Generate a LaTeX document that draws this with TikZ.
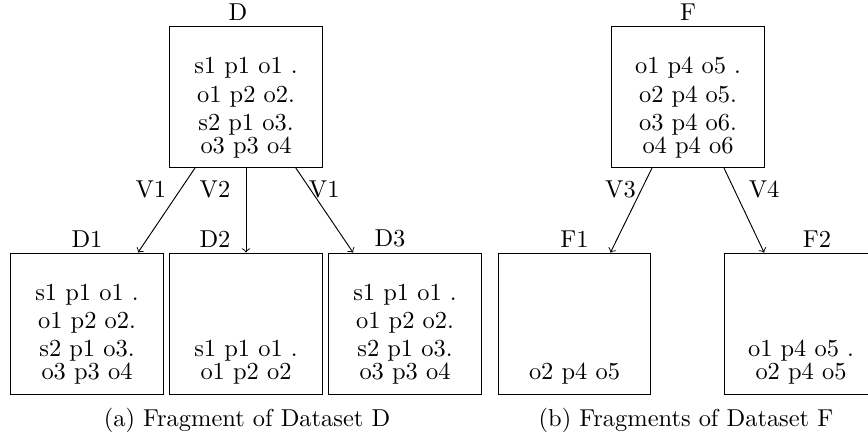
\documentclass[tikz,border=0pt]{standalone}
\usetikzlibrary{positioning}
\tikzset{
	frag/.style={draw, minimum width=65pt, minimum height=60pt, inner sep=0pt},
	rows/.style={align=center, inner sep=0pt},
	tag/.style={inner sep=2pt},
	subcap/.style={inner sep=0pt, anchor=base}
}
\begin{document}
\begin{tikzpicture}[x=0.4255pt, y=-0.4255pt, font=\fontsize{10.4pt}{12pt}\selectfont]
			\useasboundingbox (0,0) rectangle (868,438);
			\node[frag, label={[tag, xshift=-3.4pt]above:D}] (d) at (246,97) {};
			\node[frag, label={[tag]above:F}] (f) at (688,97) {};
			\node[frag, label={[tag]above:D1}] (d1) at (87,323.5) {};
			\node[frag, label={[tag, xshift=-13.2pt]above:D2}] (d2) at (246,323.5) {};
			\node[frag, label={[tag, xshift=-6.4pt]above:D3}] (d3) at (405,323.5) {};
			\node[frag, label={[tag]above:F1}] (f1) at (574.5,323.5) {};
			\node[frag, label={[tag, xshift=6.8pt]above:F2}] (f2) at (801,323.5) {};
			\node[rows, above=4pt of d.south] (dt) {s1 p1 o1 .\\ o1 p2 o2.\\ s2 p1 o3.\\[-2.2pt] o3 p3 o4};
			\node[rows, above=4pt of f.south] (ft) {o1 p4 o5 .\\ o2 p4 o5.\\ o3 p4 o6.\\[-2.2pt] o4 p4 o6};
			\node[rows, above=4pt of d1.south] (d1t) {s1 p1 o1 .\\ o1 p2 o2.\\ s2 p1 o3.\\[-2.2pt] o3 p3 o4};
			\node[rows, above=4pt of d2.south] (d2t) {s1 p1 o1 .\\[-2.2pt] o1 p2 o2};
			\node[rows, above=4pt of d3.south] (d3t) {s1 p1 o1 .\\ o1 p2 o2.\\ s2 p1 o3.\\[-2.2pt] o3 p3 o4};
			\node[rows, above=4pt of f1.south] (f1t) {o2 p4 o5};
			\node[rows, above=4pt of f2.south] (f2t) {o1 p4 o5 .\\[-2.2pt] o2 p4 o5};
			\path[->]
			([xshift=11pt]d.south west) edge node[tag, pos=.25, xshift=-12.7pt]{V1} ([xshift=-11pt]d1.north east)
			(d.south) edge node[tag, pos=.25, xshift=-13.2pt]{V2} (d2.north)
			([xshift=-11.5pt]d.south east) edge node[tag, pos=.25, xshift=6pt]{V1} ([xshift=10.6pt]d3.north west)
			([xshift=17.4pt]f.south west) edge node[tag, pos=.25, xshift=-9pt]{V3} ([xshift=-17.4pt]f1.north east)
			([xshift=-17.4pt]f.south east) edge node[tag, pos=.25, xshift=12.8pt]{V4} ([xshift=17pt]f2.north west);
			\node[subcap] (capa) at (247,426) {(a) Fragment of Dataset D};
			\node[subcap] (capb) at (686,426) {(b) Fragments of Dataset F};
		\end{tikzpicture}
\end{document}
